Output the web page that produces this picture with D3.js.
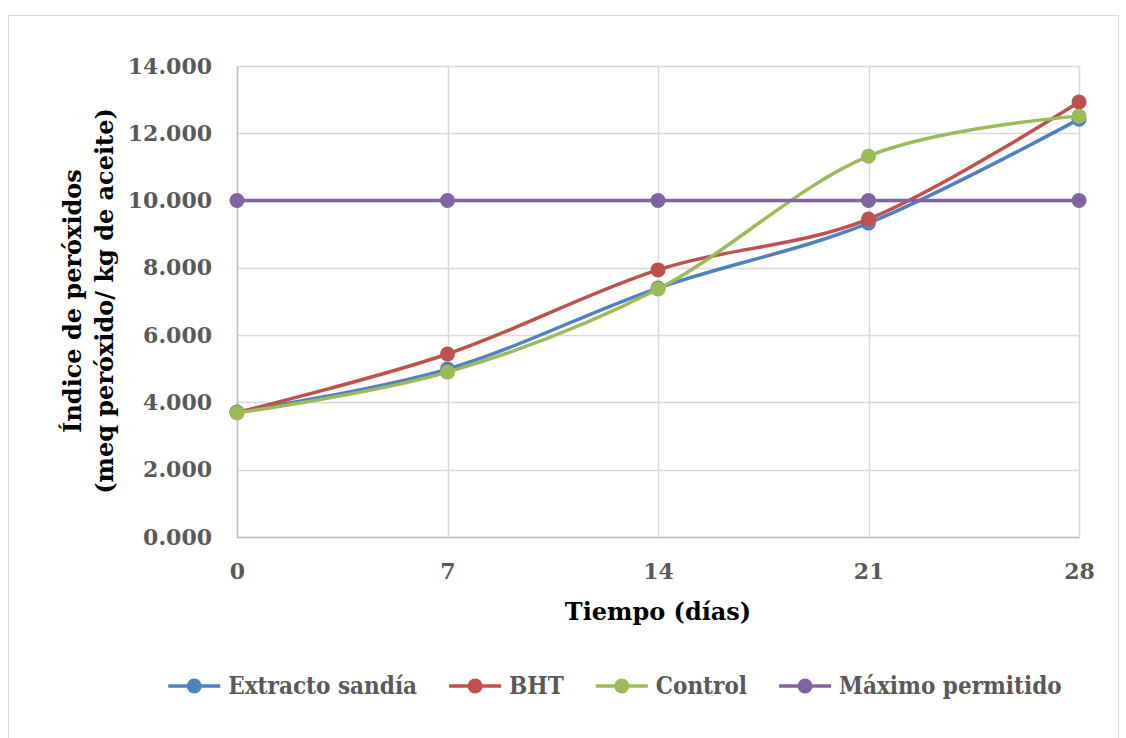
<!DOCTYPE html>
<html><head><meta charset="utf-8">
<script src="https://cdn.jsdelivr.net/npm/d3@7"></script>
<style>
html,body{margin:0;padding:0;background:#fff;}
svg{display:block;}
text{font-family:"DejaVu Serif","Liberation Serif",serif;font-weight:bold;}
</style></head>
<body>
<svg id="chart" width="1126" height="738"></svg>
<script>
const days = [0, 7, 14, 21, 28];
const extracto = [3.715, 4.99, 7.40, 9.33, 12.42];
const bht = [3.70, 5.44, 7.94, 9.45, 12.93];
const control = [3.69, 4.90, 7.37, 11.32, 12.51];
const maximo = [10, 10, 10, 10, 10];
const seriesNames = ["Extracto sandía", "BHT", "Control", "Máximo permitido"];
const seriesColors = ["#4F81BD", "#C0504D", "#9BBB59", "#8064A2"];
const yTicks = [0, 2, 4, 6, 8, 10, 12, 14];

const svg = d3.select("#chart");
svg.append("rect").attr("x", 8.5).attr("y", 15.5).attr("width", 1110).attr("height", 740)
  .attr("fill", "#fff").attr("stroke", "#D9D9D9").attr("stroke-width", 1);

const x = d3.scaleLinear().domain([0, 28]).range([237, 1079]);
const y = d3.scaleLinear().domain([0, 14]).range([537, 66]);
const g = svg.append("g");

// gridlines
g.selectAll(".hg").data(yTicks).join("line")
  .attr("x1", x(0)).attr("x2", x(28)).attr("y1", d => Math.round(y(d)) + 0.5).attr("y2", d => Math.round(y(d)) + 0.5)
  .attr("stroke", "#D9D9D9").attr("stroke-width", 1.5);
g.selectAll(".vg").data(days).join("line")
  .attr("x1", d => Math.round(x(d)) + 0.5).attr("x2", d => Math.round(x(d)) + 0.5).attr("y1", y(14)).attr("y2", y(0))
  .attr("stroke", "#D9D9D9").attr("stroke-width", 1.5);

// axes
const yAxis = d3.axisLeft(y).tickValues(yTicks).tickFormat(d3.format(".3f")).tickSize(0).tickPadding(25);
const ya = g.append("g").attr("transform", `translate(${x(0)},0)`).call(yAxis);
ya.select(".domain").attr("stroke", "#BFBFBF").attr("stroke-width", 1.5);
ya.selectAll("text").attr("fill", "#595959").style("font-size", "22px").style("font-family", "DejaVu Serif").style("font-weight", "bold");

const xAxis = d3.axisBottom(x).tickValues(days).tickFormat(d3.format("d")).tickSize(0).tickPadding(26);
const xa = g.append("g").attr("transform", `translate(0,${y(0)})`).call(xAxis);
xa.select(".domain").attr("stroke", "#BFBFBF").attr("stroke-width", 1.5);
xa.selectAll("text").attr("fill", "#595959").style("font-size", "22px").style("font-family", "DejaVu Serif").style("font-weight", "bold");

// axis titles
svg.append("text").attr("x", 658).attr("y", 620).attr("text-anchor", "middle")
  .attr("fill", "#000").style("font-size", "24px").text("Tiempo (días)");
const yt = svg.append("text").attr("transform", "translate(85,301) rotate(-90)")
  .attr("text-anchor", "middle").attr("fill", "#000").style("font-size", "24px");
yt.append("tspan").attr("x", 0).attr("dy", "-0.15em").text("Índice de peróxidos");
yt.append("tspan").attr("x", 0).attr("dy", "1.3em").text("(meq peróxido/ kg de aceite)");

// lines
const allSeries = [extracto, bht, control, maximo];
const line = d3.line().x((d, i) => x(days[i])).y(d => y(d)).curve(d3.curveCatmullRom.alpha(0));
allSeries.forEach((s, k) => {
  const sg = g.append("g");
  sg.append("path").datum(s).attr("d", line).attr("fill", "none")
    .attr("stroke", seriesColors[k]).attr("stroke-width", 3.5).attr("stroke-linecap", "round");
  sg.selectAll("circle").data(s).join("circle")
    .attr("cx", (d, i) => x(days[i])).attr("cy", d => y(d)).attr("r", 7.5).attr("fill", seriesColors[k]);
});

// legend
const leg = svg.append("g");
let cx = 0;
const items = [];
seriesNames.forEach((n, k) => {
  const it = leg.append("g");
  it.append("line").attr("x1", 0).attr("x2", 52).attr("y1", 0).attr("y2", 0)
    .attr("stroke", seriesColors[k]).attr("stroke-width", 3.5);
  it.append("circle").attr("cx", 26).attr("cy", 0).attr("r", 7.5).attr("fill", seriesColors[k]);
  const t = it.append("text").attr("x", 60).attr("y", 8).attr("fill", "#595959")
    .style("font-size", "24px").style("font-family", "DejaVu Serif Condensed, DejaVu Serif").style("font-stretch", "condensed").text(n);
  const w = 60 + t.node().getComputedTextLength();
  it.attr("transform", `translate(${cx},0)`);
  cx += w + 32;
});
const total = cx - 32;
leg.attr("transform", `translate(${615 - total / 2},686)`);
</script>
</body></html>
